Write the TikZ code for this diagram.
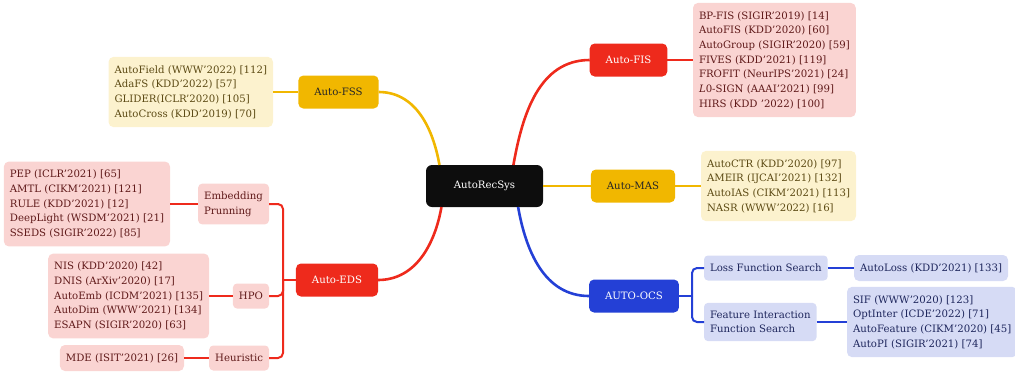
\documentclass[tikz,border=0pt]{standalone}
\usepackage{fontspec}
\setmainfont{DejaVu Serif}
\usepackage{xcolor}
\usepackage{tikz}
\usetikzlibrary{calc}
\definecolor{ylwmain}{RGB}{241,183,0}
\definecolor{ylwleaf}{RGB}{252,242,206}
\definecolor{ylwtext}{RGB}{92,74,20}
\definecolor{redmain}{RGB}{238,42,28}
\definecolor{redleaf}{RGB}{250,212,210}
\definecolor{redtext}{RGB}{96,26,26}
\definecolor{blumain}{RGB}{36,64,214}
\definecolor{bluleaf}{RGB}{214,219,245}
\definecolor{blutext}{RGB}{30,38,92}
\tikzset{
	txt/.style={font=\fontsize{10.2}{14.7}\selectfont},
	rootbox/.style={txt,fill=black!95,text=white,rounded corners=6bp,minimum width=117bp,minimum height=42bp,outer sep=0pt},
	mainbox/.style={txt,rounded corners=5bp,minimum height=33bp,inner xsep=16bp,outer sep=0pt},
	subbox/.style={txt,rounded corners=4bp,minimum height=25bp,inner xsep=6bp,inner ysep=8bp,align=left,outer sep=0pt},
	leafbox/.style={txt,rounded corners=5bp,minimum height=26bp,inner xsep=6bp,inner ysep=8.5bp,align=left,outer sep=0pt},
	trunk/.style={line width=2.6bp},
	twig/.style={line width=2bp}
}

\begin{document}
\begin{tikzpicture}[x=1bp,y=1bp]
	\useasboundingbox (0,0) rectangle (1015,-372);
	% root
	\node[rootbox] (root) at (484.5,-186) {AutoRecSys};
	% Auto-FSS
	\node[mainbox,fill=ylwmain,text=black!85] (fss) at (338.5,-92) {Auto-FSS};
	\node[leafbox,fill=ylwleaf,text=ylwtext,anchor=east] (fssl) at (273,-92) {AutoField (WWW'2022) [112]\\AdaFS (KDD'2022) [57]\\GLIDER(ICLR'2020) [105]\\AutoCross (KDD'2019) [70]};
	% Auto-FIS
	\node[mainbox,fill=redmain,text=white] (fis) at (628.5,-60) {Auto-FIS};
	\node[leafbox,fill=redleaf,text=redtext,anchor=west] (fisl) at (693,-60) {BP-FIS (SIGIR'2019) [14]\\AutoFIS (KDD'2020) [60]\\AutoGroup (SIGIR'2020) [59]\\FIVES (KDD'2021) [119]\\FROFIT (NeurIPS'2021) [24]\\\textit{L}0-SIGN (AAAI'2021) [99]\\HIRS (KDD '2022) [100]};
	% Auto-MAS
	\node[mainbox,fill=ylwmain,text=black!85] (mas) at (633,-186) {Auto-MAS};
	\node[leafbox,fill=ylwleaf,text=ylwtext,anchor=west] (masl) at (701,-186) {AutoCTR (KDD'2020) [97]\\AMEIR (IJCAI'2021) [132]\\AutoIAS (CIKM'2021) [113]\\NASR (WWW'2022) [16]};
	% AUTO-OCS
	\node[mainbox,fill=blumain,text=white] (ocs) at (634,-296) {AUTO-OCS};
	\node[subbox,fill=bluleaf,text=blutext,anchor=west] (loss) at (704,-268) {Loss Function Search};
	\node[leafbox,fill=bluleaf,text=blutext,anchor=west,inner ysep=3bp] (lossl) at (854,-268) {AutoLoss (KDD'2021) [133]};
	\node[subbox,fill=bluleaf,text=blutext,anchor=west] (feat) at (704,-322) {Feature Interaction\\Function Search};
	\node[leafbox,fill=bluleaf,text=blutext,anchor=west] (featl) at (847,-322) {SIF (WWW'2020) [123]\\OptInter (ICDE'2022) [71]\\AutoFeature (CIKM'2020) [45]\\AutoPI (SIGIR'2021) [74]};
	\coordinate (ocsj) at (692,-296);
	% Auto-EDS
	\node[mainbox,fill=redmain,text=white] (eds) at (337,-280) {Auto-EDS};
	\node[subbox,fill=redleaf,text=redtext,anchor=east] (emb) at (269,-204) {Embedding\\Prunning};
	\node[leafbox,fill=redleaf,text=redtext,anchor=east] (embl) at (170,-204) {PEP (ICLR'2021) [65]\\AMTL (CIKM'2021) [121]\\RULE (KDD'2021) [12]\\DeepLight (WSDM'2021) [21]\\SSEDS (SIGIR'2022) [85]};
	\node[subbox,fill=redleaf,text=redtext,anchor=east] (hpo) at (269,-296) {HPO};
	\node[leafbox,fill=redleaf,text=redtext,anchor=east] (hpol) at (209,-296) {NIS (KDD'2020) [42]\\DNIS (ArXiv'2020) [17]\\AutoEmb (ICDM'2021) [135]\\AutoDim (WWW'2021) [134]\\ESAPN (SIGIR'2020) [63]};
	\node[subbox,fill=redleaf,text=redtext,anchor=east] (heu) at (269,-358) {Heuristic};
	\node[leafbox,fill=redleaf,text=redtext,anchor=east,inner ysep=3bp] (heul) at (184,-358) {MDE (ISIT'2021) [26]};
	\coordinate (edsj) at (283,-280);
	% main branches
	\draw[trunk,ylwmain] (fss.east) to[out=0,in=100] (root.155);
	\draw[trunk,redmain] (fis.west) to[out=180,in=80] (root.36);
	\draw[trunk,ylwmain] (root.east) -- (mas.west);
	\draw[trunk,redmain] (eds.east) to[out=0,in=-100] (root.206);
	\draw[trunk,blumain] (ocs.west) to[out=180,in=-80] (root.328);
	% sub branches
	\draw[twig,ylwmain] (fssl.east) -- (fss.west);
	\draw[twig,redmain] (fis.east) -- (fisl.west);
	\draw[twig,ylwmain] (mas.east) -- (masl.west);
	\draw[twig,blumain] (ocs.east) -- (ocsj);
	\draw[twig,blumain,rounded corners=5bp] (ocsj) |- (loss.west);
	\draw[twig,blumain,rounded corners=5bp] (ocsj) |- (feat.west);
	\draw[twig,blumain] (loss.east) -- (lossl.west);
	\draw[twig,blumain] (feat.east) -- (featl.west);
	\draw[twig,redmain] (eds.west) -- (edsj);
	\draw[twig,redmain,rounded corners=5bp] (edsj) |- (emb.east);
	\draw[twig,redmain,rounded corners=5bp] (edsj) |- (hpo.east);
	\draw[twig,redmain,rounded corners=5bp] (edsj) |- (heu.east);
	\draw[twig,redmain] (embl.east) -- (emb.west);
	\draw[twig,redmain] (hpol.east) -- (hpo.west);
	\draw[twig,redmain] (heul.east) -- (heu.west);
\end{tikzpicture}
\end{document}
